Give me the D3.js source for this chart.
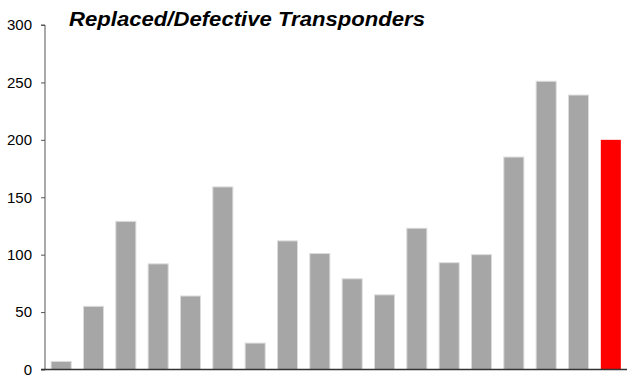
<!DOCTYPE html>
<html>
<head>
<meta charset="utf-8">
<script src="https://cdn.jsdelivr.net/npm/d3@7"></script>
<style>
  body { margin: 0; background: #fff; }
  svg { display: block; font-family: "Liberation Sans", Arial, sans-serif; }
</style>
</head>
<body>
<svg id="chart" width="627" height="375"></svg>
<script>
// -- data -- //
let categories = d3.range(1, 19).map(d => `P${d}`);
let replaced = [7, 55, 129, 92, 64, 159, 23, 112, 101, 79, 65, 123, 93, 100, 185, 251, 239, 200];
let yTicks = [0, 50, 100, 150, 200, 250, 300];
let highlight = "P18";

let svg = d3.select("#chart");
let plotLeft = 45, plotRight = 627, plotTop = 25, plotBottom = 369.5;

let xScale = d3.scaleBand()
    .domain(categories)
    .range([plotLeft, plotRight])
    .paddingInner(0.38)
    .paddingOuter(0.19);

let yScale = d3.scaleLinear()
    .domain([0, 300])
    .range([plotBottom, plotTop]);

// -- bars -- //
svg.selectAll('.bar')
    .data(categories)
    .enter()
    .append('rect')
    .attr('class', 'bar')
    .attr('x', d => xScale(d))
    .attr('y', (d, i) => yScale(replaced[i]))
    .attr('width', xScale.bandwidth())
    .attr('height', (d, i) => plotBottom - yScale(replaced[i]))
    .style('fill', d => d === highlight ? '#ff0000' : '#a6a6a6')
    .style('stroke', d => d === highlight ? 'none' : '#dcdcdc')
    .style('stroke-width', 1);

// -- y axis -- //
let yAxis = d3.axisLeft(yScale).tickValues(yTicks).tickSize(4).tickPadding(9);
let yG = svg.append('g')
    .attr('transform', `translate(${plotLeft}, 0)`)
    .call(yAxis);
yG.select('.domain').attr('stroke', '#555').attr('d', `M-4,${plotTop}H0V${plotBottom}`);
yG.selectAll('.tick line').attr('stroke', '#555');
yG.selectAll('.tick text')
    .style('font-size', '15px')
    .style('fill', '#000');

// -- x baseline -- //
svg.append('line')
    .attr('x1', plotLeft - 4)
    .attr('x2', plotRight)
    .attr('y1', plotBottom)
    .attr('y2', plotBottom)
    .attr('stroke', '#333')
    .attr('stroke-width', 1.5);

// -- title -- //
svg.append('text')
    .attr('x', 69)
    .attr('y', 26)
    .attr('textLength', 356)
    .attr('lengthAdjust', 'spacingAndGlyphs')
    .text('Replaced/Defective Transponders')
    .style('font-size', '20px')
    .style('font-weight', 'bold')
    .style('font-style', 'italic');
</script>
</body>
</html>
